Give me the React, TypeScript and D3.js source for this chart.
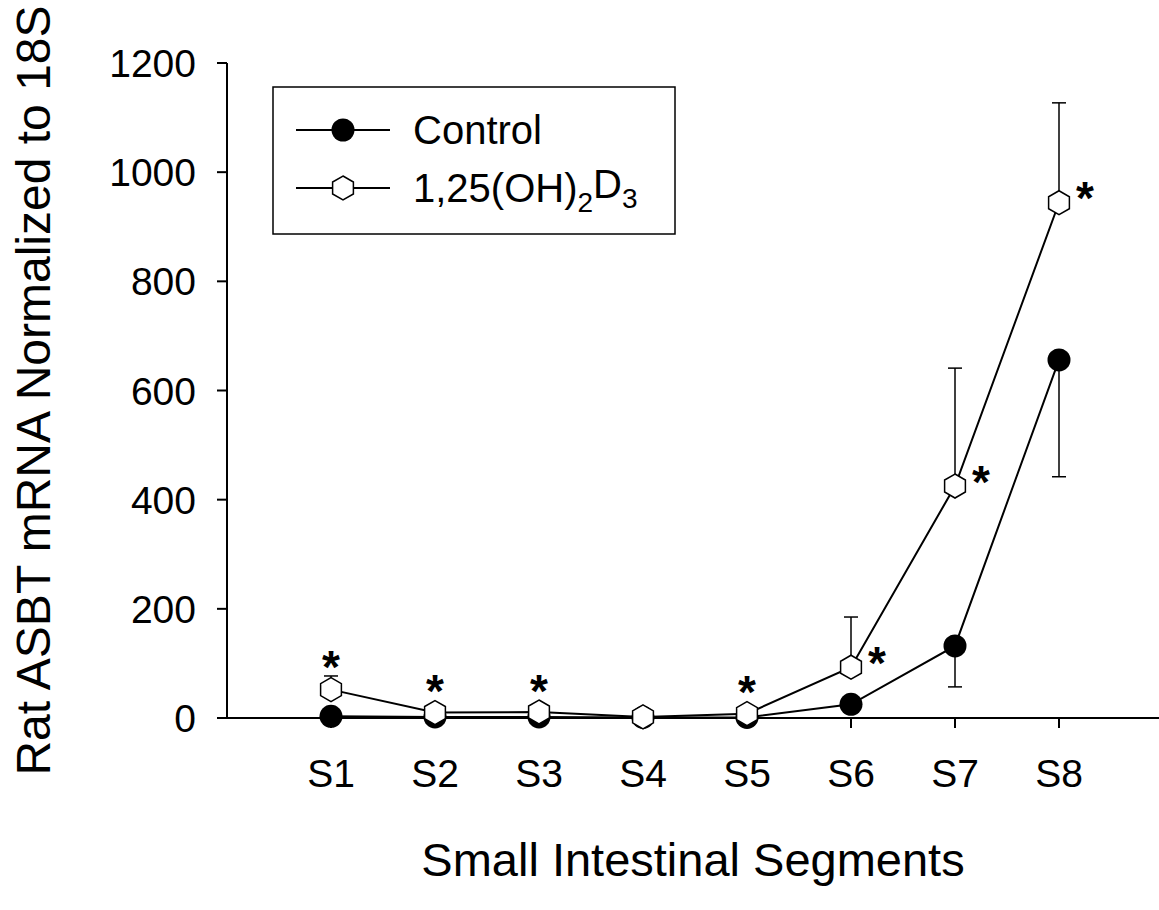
import React, { useMemo } from 'react';
import * as d3 from 'd3';

const categories = ['S1', 'S2', 'S3', 'S4', 'S5', 'S6', 'S7', 'S8'];
const controlMean = [3, 2, 2, 1, 1, 25, 132, 656];
const controlSE = [2, 1, 1, 1, 1, 6, 75, 214];
const vitDMean = [52, 10, 11, 2, 8, 93, 425, 944];
const vitDSE = [25, 4, 4, 1, 3, 92, 216, 183];
// where the * sits for each vitamin D point ('' = not significant)
const vitDStars = ['above', 'above', 'above', '', 'above', 'right', 'right', 'right'];
const yTicks = [0, 200, 400, 600, 800, 1000, 1200];

const FONT = 'Arial, "Liberation Sans", Helvetica, sans-serif';

const width = 1159;
const height = 910;
const left = 227;
const top = 63;
const bottom = 718;
const hexR = 12;
const starSize = 46;

// pointy-top hexagon path around 0,0
function hexPath(r: number) {
  const pts: [number, number][] = d3.range(6).map((i) => {
    const a = -Math.PI / 2 + (i * Math.PI) / 3;
    return [r * Math.cos(a), r * Math.sin(a)];
  });
  return d3.line()(pts) + 'Z';
}

export default function App() {
  const x = useMemo(() => d3.scaleLinear().domain([0, 9]).range([left, left + 9 * 104]), []);
  const y = useMemo(() => d3.scaleLinear().domain([0, 1200]).range([bottom, top]), []);

  const line = d3
    .line<number>()
    .x((_, i) => x(i + 1))
    .y((d) => y(d));

  const hex = hexPath(hexR);

  return (
    <svg
      width={width}
      height={height}
      style={{ position: 'absolute', left: 0, top: 0, background: '#fff' }}
      fontFamily={FONT}
    >
      {/* axes */}
      <line x1={left} x2={width + 5} y1={bottom} y2={bottom} stroke="#000" strokeWidth={2} />
      <line x1={left} x2={left} y1={top} y2={bottom} stroke="#000" strokeWidth={2} />
      {yTicks.map((t) => (
        <g key={t}>
          <line x1={left - 10} x2={left} y1={y(t)} y2={y(t)} stroke="#000" strokeWidth={2} />
          <text x={left - 31} y={y(t)} dy="0.36em" textAnchor="end" fontSize={39}>
            {t}
          </text>
        </g>
      ))}
      {categories.map((c, i) => (
        <g key={c}>
          <line x1={x(i + 1)} x2={x(i + 1)} y1={bottom} y2={bottom + 10} stroke="#000" strokeWidth={2} />
          <text x={x(i + 1)} y={787} textAnchor="middle" fontSize={39}>
            {c}
          </text>
        </g>
      ))}

      {/* axis titles */}
      <text x={693} y={876} textAnchor="middle" fontSize={47}>
        Small Intestinal Segments
      </text>
      <text transform={`translate(50,${(top + bottom) / 2}) rotate(-90)`} textAnchor="middle" fontSize={48}>
        Rat ASBT mRNA Normalized to 18S
      </text>

      {/* error bars: control down, vitamin D up */}
      {controlMean.map((m, i) => (
        <g key={'ce' + i} stroke="#000" strokeWidth={1.5}>
          <line x1={x(i + 1)} x2={x(i + 1)} y1={y(m)} y2={y(m - controlSE[i])} />
          <line x1={x(i + 1) - 7} x2={x(i + 1) + 7} y1={y(m - controlSE[i])} y2={y(m - controlSE[i])} />
        </g>
      ))}
      {vitDMean.map((m, i) => (
        <g key={'ve' + i} stroke="#000" strokeWidth={1.5}>
          <line x1={x(i + 1)} x2={x(i + 1)} y1={y(m)} y2={y(m + vitDSE[i])} />
          <line x1={x(i + 1) - 7} x2={x(i + 1) + 7} y1={y(m + vitDSE[i])} y2={y(m + vitDSE[i])} />
        </g>
      ))}

      {/* lines */}
      <path d={line(controlMean) || ''} fill="none" stroke="#000" strokeWidth={2} />
      <path d={line(vitDMean) || ''} fill="none" stroke="#000" strokeWidth={2} />

      {/* markers */}
      {controlMean.map((m, i) => (
        <circle key={'c' + i} cx={x(i + 1)} cy={y(m)} r={11.5} fill="#000" />
      ))}
      {vitDMean.map((m, i) => (
        <path
          key={'v' + i}
          d={hex}
          transform={`translate(${x(i + 1)},${y(m)})`}
          fill="#fff"
          stroke="#000"
          strokeWidth={1.5}
        />
      ))}

      {/* significance stars, placed by their visual centre */}
      {vitDMean.map((m, i) => {
        const pos = vitDStars[i];
        if (!pos) return null;
        const topOfMark = Math.min(y(m + vitDSE[i]), y(m) - hexR);
        const cx = pos === 'above' ? x(i + 1) : x(i + 1) + 26;
        const cy = pos === 'above' ? topOfMark - 20 : y(m) - 15;
        return (
          <text key={'s' + i} x={cx} y={cy + 0.58 * starSize} textAnchor="middle" fontSize={starSize} fontWeight="bold">
            *
          </text>
        );
      })}

      {/* legend */}
      <rect x={273} y={87} width={402} height={147} fill="#fff" stroke="#000" strokeWidth={1.5} />
      <line x1={296} x2={390} y1={130} y2={130} stroke="#000" strokeWidth={2} />
      <circle cx={343} cy={130} r={11.5} fill="#000" />
      <text x={413} y={130} dy="0.36em" fontSize={40}>
        Control
      </text>
      <line x1={296} x2={390} y1={188} y2={188} stroke="#000" strokeWidth={2} />
      <path d={hex} transform="translate(343,188)" fill="#fff" stroke="#000" strokeWidth={1.5} />
      <text x={413} y={188} dy="0.36em" fontSize={40}>
        1,25(OH)
        <tspan fontSize={28} dy="0.35em">2</tspan>
        <tspan dy="-0.35em">D</tspan>
        <tspan fontSize={28} dy="0.35em">3</tspan>
      </text>
    </svg>
  );
}
